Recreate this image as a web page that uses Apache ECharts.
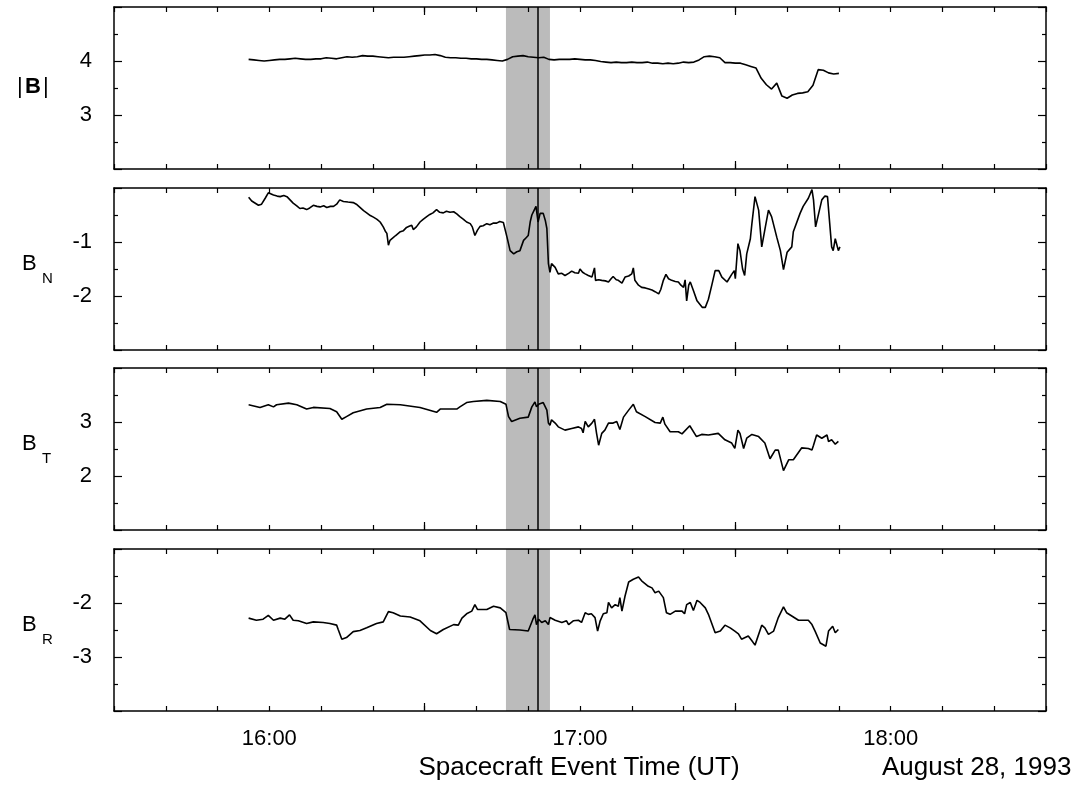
<!DOCTYPE html>
<html><head><meta charset="utf-8">
<script src="https://cdn.jsdelivr.net/npm/echarts@6/dist/echarts.min.js"></script>
<style>html,body{margin:0;padding:0;background:#fff}#c{width:1079px;height:786px}</style>
</head><body><div id="c"></div>
<script>
// Time axis values are minutes after 15:00 UT
const xMin = 30, xMax = 210;
const xLabelValues = [60, 120, 180];
const xMajorTickValues = [90, 150];
const bandStart = 105.7, bandEnd = 114.2, eventTime = 111.8;

const panelNames = ['|B|', 'B_N', 'B_T', 'B_R'];
const yMins = [2, -3, 1, -4];
const yMaxs = [5, 0, 4, -1];

const bMagTime = [56,57,58,59,60,61,62,63,64,65,66,67,68,69,70,71,72,73,74,75,76,77,78,79,80,81,82,83,84,85,86,87,88,89,90,91,92,93,94,95,96,97,98,99,100,101,102,103,104,105,106,107,108,109,110,111,112,113,114,115,116,117,118,119,120,121,122,123,124,125,126,127,128,129,130,131,132,133,134,135,136,137,138,139,140,141,142,143,144,145,146,147,148,149,150,151,152,153,154,155,156,157,158,159,160,161,162,163,164,165,166,167,168,169,170];
const bMagVal = [4.03,4.02,4.01,4.00,4.01,4.02,4.03,4.03,4.04,4.05,
 4.04,4.03,4.03,4.04,4.04,4.06,4.05,4.04,4.06,4.08,
 4.07,4.08,4.10,4.09,4.09,4.08,4.07,4.06,4.07,4.07,
 4.07,4.08,4.09,4.10,4.11,4.11,4.12,4.10,4.07,4.06,
 4.06,4.05,4.05,4.04,4.04,4.03,4.03,4.02,4.01,4.00,
 4.03,4.08,4.09,4.10,4.08,4.07,4.06,4.07,4.03,4.02,
 4.03,4.03,4.03,4.04,4.03,4.02,4.02,4.01,3.99,3.98,
 3.97,3.98,3.97,3.97,3.98,3.97,3.97,3.98,3.96,3.96,
 3.95,3.96,3.95,3.96,3.98,3.97,3.98,4.02,4.08,4.09,
 4.08,4.06,3.97,3.97,3.96,3.96,3.93,3.90,3.87,3.68,
 3.56,3.48,3.59,3.35,3.31,3.37,3.40,3.41,3.43,3.55,
 3.84,3.83,3.78,3.76,3.77];

const bnTime = [56.0,56.6,57.9,58.5,59.2,59.8,60.8,61.5,62.1,62.8,63.4,64.0,64.6,65.3,65.9,66.5,67.2,67.8,68.5,69.2,69.8,70.5,71.1,71.8,72.4,73.0,73.6,74.3,75.2,76.2,76.8,77.5,78.2,78.8,79.5,80.1,80.8,81.4,82.0,82.4,82.7,83.0,83.3,83.8,84.4,85.3,85.9,86.5,87.0,87.5,87.8,88.4,89.1,89.7,90.4,91.0,91.6,92.3,92.9,93.6,94.2,94.9,95.6,96.2,96.8,97.5,98.1,98.8,99.2,99.7,100.2,100.7,101.3,102.0,102.6,103.3,103.9,104.5,105.2,105.5,105.9,106.5,107.2,107.8,108.4,109.1,109.6,110.0,110.4,110.7,111.2,111.5,111.9,112.3,112.6,112.9,113.3,113.6,113.9,114.2,114.5,115.2,115.8,116.5,117.1,117.8,118.4,119.0,119.7,120.0,120.5,121.0,121.6,122.3,122.8,123.0,123.6,124.2,124.9,125.5,126.0,126.4,127.0,127.4,128.1,128.7,129.4,130.0,130.3,130.6,131.3,131.9,132.6,133.3,133.9,134.5,135.2,135.6,136.1,136.6,137.1,137.7,138.4,139.0,139.5,140.0,140.3,140.6,141.0,141.3,141.9,142.6,142.9,143.6,144.2,144.8,145.5,146.1,146.8,147.4,148.4,149.3,149.8,150.0,150.5,150.9,151.4,151.8,152.2,152.9,153.2,153.8,154.5,155.1,155.8,156.4,157.0,158.0,158.7,159.3,160.0,160.9,161.2,162.5,163.1,164.1,164.8,165.1,165.5,166.1,166.7,167.3,167.8,168.6,168.9,169.3,169.9,170.2];
const bnVal = [-0.17,-0.24,-0.32,-0.30,-0.19,-0.09,-0.13,-0.15,-0.16,-0.14,-0.16,-0.22,-0.28,-0.33,-0.38,-0.37,-0.40,-0.37,-0.32,-0.34,-0.35,-0.33,-0.36,-0.34,-0.34,-0.30,-0.22,-0.25,-0.26,-0.27,-0.30,-0.36,-0.42,-0.46,-0.51,-0.54,-0.58,-0.63,-0.72,-0.80,-0.84,-1.06,-0.97,-0.93,-0.88,-0.81,-0.79,-0.73,-0.71,-0.69,-0.77,-0.72,-0.63,-0.58,-0.53,-0.49,-0.46,-0.40,-0.45,-0.46,-0.43,-0.45,-0.44,-0.48,-0.53,-0.58,-0.63,-0.66,-0.72,-0.88,-0.78,-0.71,-0.70,-0.66,-0.68,-0.65,-0.65,-0.62,-0.64,-0.61,-0.91,-1.16,-1.22,-1.18,-1.16,-0.97,-0.92,-0.88,-0.62,-0.50,-0.40,-0.34,-0.63,-0.47,-0.44,-0.47,-0.60,-0.75,-1.40,-1.56,-1.40,-1.47,-1.59,-1.58,-1.62,-1.58,-1.54,-1.57,-1.58,-1.50,-1.56,-1.59,-1.62,-1.65,-1.48,-1.71,-1.70,-1.71,-1.72,-1.74,-1.68,-1.64,-1.70,-1.71,-1.76,-1.65,-1.63,-1.59,-1.48,-1.71,-1.80,-1.84,-1.85,-1.87,-1.89,-1.92,-1.96,-1.88,-1.71,-1.60,-1.68,-1.71,-1.73,-1.74,-1.80,-1.84,-1.70,-2.09,-1.80,-1.74,-1.90,-2.09,-2.06,-2.21,-2.21,-2.06,-1.78,-1.53,-1.53,-1.65,-1.74,-1.60,-1.53,-1.68,-1.03,-1.16,-1.50,-1.62,-1.22,-0.94,-0.66,-0.16,-0.41,-1.09,-0.72,-0.41,-0.53,-0.91,-1.16,-1.51,-1.19,-1.09,-0.81,-0.47,-0.34,-0.19,-0.03,-0.22,-0.72,-0.47,-0.22,-0.15,-0.16,-1.09,-1.16,-0.94,-1.16,-1.09];

const btTime = [56.0,58.2,59.8,60.8,61.4,63.7,65.3,67.2,68.5,71.7,73.0,73.3,74.0,74.9,76.2,78.8,81.4,82.7,85.3,89.1,92.3,93.0,96.2,96.8,98.1,99.4,102.0,104.6,105.7,106.2,106.8,108.4,110.0,110.7,111.3,111.6,112.0,112.3,112.9,113.6,113.9,114.2,114.5,115.2,115.8,117.1,118.4,119.7,120.3,120.6,121.0,121.6,122.3,122.8,123.2,123.6,124.2,124.8,125.5,126.4,127.1,127.7,128.4,129.4,130.3,130.9,132.6,134.5,135.5,136.0,136.4,137.4,139.0,139.7,141.2,142.5,143.5,144.8,146.7,148.0,149.3,149.9,150.5,150.9,151.6,152.2,153.2,154.5,155.7,156.7,157.7,158.3,159.3,160.3,161.2,162.8,164.1,164.8,165.1,165.7,166.7,167.7,168.0,168.6,169.3,169.9];
const btVal = [3.32,3.27,3.32,3.28,3.32,3.35,3.32,3.24,3.27,3.25,3.19,3.22,3.05,3.10,3.17,3.24,3.27,3.33,3.32,3.27,3.18,3.24,3.24,3.28,3.36,3.38,3.40,3.38,3.33,3.10,3.01,3.07,3.09,3.28,3.37,3.28,3.33,3.35,3.36,3.22,2.98,2.94,3.04,2.98,2.91,2.85,2.88,2.91,2.88,2.80,3.01,2.91,2.98,3.05,2.79,2.57,2.79,2.85,2.98,2.98,3.01,2.86,3.09,3.22,3.33,3.19,3.10,2.99,2.98,3.09,2.96,2.82,2.82,2.78,2.93,2.73,2.77,2.76,2.79,2.67,2.61,2.51,2.85,2.79,2.51,2.70,2.77,2.73,2.61,2.32,2.48,2.48,2.10,2.30,2.30,2.52,2.51,2.48,2.57,2.76,2.70,2.76,2.64,2.67,2.59,2.64];

const brTime = [56.0,57.5,58.8,59.8,60.8,62.1,63.0,63.9,64.6,65.6,67.2,68.5,70.4,71.7,73.0,73.3,74.0,74.9,76.2,77.5,78.8,80.7,82.0,83.0,83.9,85.3,87.2,89.1,91.1,92.3,93.6,95.6,96.5,97.2,98.1,99.1,99.7,100.2,102.0,103.3,104.6,105.7,106.4,108.4,110.0,110.9,111.3,111.6,112.0,112.6,113.3,113.9,114.2,115.2,116.5,117.4,117.8,118.7,119.7,120.3,121.0,121.6,122.2,122.9,123.4,123.9,124.5,125.2,125.5,126.1,126.8,127.4,127.7,128.1,128.7,129.4,130.3,131.3,131.9,133.2,133.9,134.5,135.2,135.5,136.1,136.7,137.4,138.4,139.7,140.2,140.6,141.3,141.9,142.6,143.2,144.2,144.8,146.1,147.1,148.0,149.0,149.9,150.6,151.2,152.5,153.2,153.8,155.1,155.7,156.4,157.4,158.3,159.3,159.9,160.9,162.2,164.1,164.8,165.4,166.4,167.5,168.0,168.8,169.3,169.9];
const brVal = [-2.28,-2.32,-2.30,-2.23,-2.32,-2.28,-2.30,-2.22,-2.32,-2.33,-2.38,-2.35,-2.36,-2.38,-2.41,-2.49,-2.67,-2.64,-2.53,-2.51,-2.46,-2.38,-2.35,-2.16,-2.18,-2.24,-2.26,-2.33,-2.51,-2.57,-2.49,-2.40,-2.41,-2.28,-2.20,-2.15,-2.03,-2.12,-2.12,-2.06,-2.09,-2.18,-2.49,-2.50,-2.52,-2.30,-2.22,-2.40,-2.30,-2.36,-2.33,-2.40,-2.27,-2.32,-2.36,-2.33,-2.40,-2.33,-2.32,-2.36,-2.18,-2.21,-2.20,-2.27,-2.52,-2.33,-2.20,-2.18,-1.99,-2.09,-2.03,-2.06,-1.90,-2.15,-1.87,-1.61,-1.56,-1.52,-1.59,-1.69,-1.72,-1.81,-1.78,-1.77,-1.90,-2.18,-2.21,-2.15,-2.15,-2.20,-2.03,-1.99,-2.14,-1.95,-1.99,-2.09,-2.21,-2.55,-2.52,-2.41,-2.46,-2.52,-2.57,-2.67,-2.61,-2.70,-2.78,-2.41,-2.46,-2.58,-2.52,-2.27,-2.07,-2.18,-2.24,-2.32,-2.32,-2.40,-2.52,-2.74,-2.80,-2.52,-2.43,-2.55,-2.49];

const seriesTimes = [bMagTime, bnTime, btTime, brTime];
const seriesVals = [bMagVal, bnVal, btVal, brVal];

// ---- layout ----
const gridTops = [7, 188, 368, 549];
const gridH = 162, gridLeft = 114, gridW = 932;
const FONT = '"Liberation Sans", Arial, Helvetica, sans-serif';
const black = '#000';

function fmtTime(v) {
  const h = 15 + Math.floor(v / 60), m = Math.round(v % 60);
  return h + ':' + String(m).padStart(2, '0');
}

const grids = [], xAxes = [], yAxes = [], series = [];
for (let i = 0; i < 4; i++) {
  grids.push({left: gridLeft, top: gridTops[i], width: gridW, height: gridH, containLabel: false});
  const isLast = i === 3;
  ['bottom', 'top'].forEach(pos => {
    xAxes.push({
      type: 'value', gridIndex: i, position: pos, min: xMin, max: xMax, interval: 10, z: 10,
      axisLine: {show: true, onZero: false, lineStyle: {color: black, width: 1.5}},
      axisTick: {show: true, inside: true, length: 5, lineStyle: {color: black, width: 1.2}},
      axisLabel: (isLast && pos === 'bottom') ? {
        show: true, customValues: xLabelValues, formatter: fmtTime, margin: 17,
        color: black, fontSize: 22, fontFamily: FONT
      } : {show: false},
      splitLine: {show: false}
    });
    xAxes.push({
      type: 'value', gridIndex: i, position: pos, min: xMin, max: xMax, interval: 10, z: 10,
      axisLine: {show: false, onZero: false},
      axisTick: {show: true, inside: true, length: 8, customValues: xMajorTickValues, lineStyle: {color: black, width: 1.2}},
      axisLabel: {show: false},
      splitLine: {show: false}
    });
  });
  ['left', 'right'].forEach(pos => {
    yAxes.push({
      type: 'value', gridIndex: i, position: pos, min: yMins[i], max: yMaxs[i], interval: 1, z: 10,
      axisLine: {show: true, onZero: false, lineStyle: {color: black, width: 1.5}},
      axisTick: {show: true, inside: true, length: 8, lineStyle: {color: black, width: 1.2}},
      minorTick: {show: true, splitNumber: 2, length: 4, lineStyle: {color: black, width: 1.2}},
      axisLabel: pos === 'left' ? {
        show: true, showMinLabel: false, showMaxLabel: false, margin: 22,
        color: black, fontSize: 22, fontFamily: FONT
      } : {show: false},
      splitLine: {show: false}
    });
  });
  // shaded interval + event line
  series.push({
    type: 'line', xAxisIndex: i * 4, yAxisIndex: i * 2, data: [], z: 1, silent: true,
    markArea: {silent: true, itemStyle: {color: '#bbbbbb'}, data: [[{xAxis: bandStart}, {xAxis: bandEnd}]]},
    markLine: {silent: true, symbol: ['none', 'none'], label: {show: false},
      lineStyle: {color: black, width: 1.5, type: 'solid'}, data: [{xAxis: eventTime}]}
  });
  const t = seriesTimes[i], v = seriesVals[i];
  series.push({
    name: panelNames[i], type: 'line', xAxisIndex: i * 4, yAxisIndex: i * 2, z: 3,
    data: t.map((tt, k) => [tt, v[k]]), showSymbol: false, symbol: 'none',
    lineStyle: {color: black, width: 1.6}
  });
}

const centers = gridTops.map(t => t + gridH / 2);
const txt = (x, y, text, size, weight, align) => ({
  type: 'text', x: x, y: y, silent: true,
  style: {text: text, fill: black, fontSize: size, fontFamily: FONT, fontWeight: weight || 'normal',
    align: align || 'left', verticalAlign: 'middle'}
});
const subs = ['N', 'T', 'R'];
const graphics = [
  txt(17, centers[0] - 1, '|', 22),
  txt(25, centers[0] - 1, 'B', 22, 'bold'),
  txt(43, centers[0] - 1, '|', 22)
];
for (let i = 1; i < 4; i++) {
  graphics.push(txt(22, centers[i] - 5, 'B', 22));
  graphics.push(txt(42, centers[i] + 10, subs[i - 1], 15));
}
graphics.push({type: 'text', x: 579, y: 768, silent: true,
  style: {text: 'Spacecraft Event Time (UT)', fill: black, fontSize: 26, fontFamily: FONT, align: 'center', verticalAlign: 'middle'}});
graphics.push({type: 'text', x: 882, y: 768, silent: true,
  style: {text: 'August 28, 1993', fill: black, fontSize: 26, fontFamily: FONT, align: 'left', verticalAlign: 'middle'}});

const chart = echarts.init(document.getElementById('c'), null, {renderer: 'canvas'});
chart.setOption({
  animation: false,
  backgroundColor: '#fff',
  grid: grids, xAxis: xAxes, yAxis: yAxes, series: series, graphic: graphics
});
</script></body></html>
